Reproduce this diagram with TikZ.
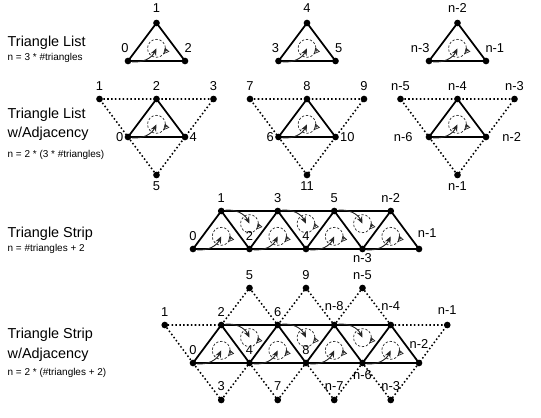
\documentclass[tikz,border=0pt]{standalone}
\usepackage{fontspec}
\setmainfont{Liberation Sans}
\setsansfont{Liberation Sans}
\usetikzlibrary{arrows.meta, calc}
\tikzset{
  every picture/.style={font=\sffamily, line width=1.2pt},
  vtx/.style={circle, fill=black, inner sep=0pt, minimum size=0.2cm},
  tri/.style={draw=black, line width=1.5pt, line join=round},
  adj/.style={draw=black, line width=1.3pt, dotted},
  ring/.style={draw=black!85, line width=0.6pt, dash pattern=on 2pt off 1.5pt},
  flow/.style={-{Stealth[length=6pt, width=5pt]}, draw=black!85, line width=0.8pt},
  wind/.style={-{Triangle[open, length=5pt, width=5pt]}, draw=black!85, line width=0.6pt},
  num/.style={font=\sffamily\fontsize{11}{13}\selectfont, inner sep=0pt},
  title/.style={font=\sffamily\fontsize{12.3}{14}\selectfont, anchor=base west, inner sep=0pt},
  note/.style={font=\sffamily\fontsize{8.5}{10}\selectfont, anchor=base west, inner sep=0pt},
  every label/.style={num},
  label distance=3.5pt,
  wmark/.pic={
    \draw[ring] (0,0) circle[radius=9];
    \draw[wind] (5:9) arc[start angle=5, end angle=40, radius=9];
  },
}

\begin{document}
\begin{tikzpicture}[x=0.03cm, y=-0.03cm]
  \useasboundingbox (0,0) rectangle (541,417);
  % ---------- triangle list ----------
  \node[title] (tl) at (7,46) {Triangle List};
  \node[note] (tln) at (7,60) {n = 3 * \#triangles};
  \foreach \c/\g/\la/\lb/\lc in {156.5/1/0/1/2, 307/2/3/4/5, 457.5/3/n-3/n-2/n-1} {
    \node[vtx, label={[anchor=south east, xshift=1pt, label distance=3pt]90:\la}] (lp\g) at (\c-28.5,61) {};
    \node[vtx, label={[label distance=5pt]above:\lb}] (lq\g) at (\c,23) {};
    \node[vtx, label={[anchor=south west, xshift=-1pt, label distance=3pt]90:\lc}] (lr\g) at (\c+28.5,61) {};
    \draw[tri] (lp\g.center) -- (lq\g.center) -- (lr\g.center) -- cycle;
    \coordinate (lc\g) at ($1/3*(lp\g)+1/3*(lq\g)+1/3*(lr\g)$);
    \pic at (lc\g) {wmark};
    \draw[flow] (lp\g) to[bend right=35] (lc\g);
  }
  % ---------- triangle list w/ adjacency ----------
  \node[title] (ja) at (7,118) {Triangle List};
  \node[title] (jb) at (7,137.5) {w/Adjacency};
  \node[note] (jn) at (7,157) {n = 2 * (3 * \#triangles)};
  \foreach \c/\g/\la/\lb/\lc/\ld/\le/\lf/\gap in {156.5/1/1/2/3/0/4/5/0pt, 307/2/7/8/9/6/10/11/0pt, 457.5/3/n-5/n-4/n-3/n-6/n-2/n-1/10pt} {
    \node[vtx, label={[label distance=3pt]above:\la}] (jo\g) at (\c-57,99) {};
    \node[vtx, label={[label distance=3pt]above:\lb}] (jq\g) at (\c,99) {};
    \node[vtx, label={[label distance=3pt]above:\lc}] (jr\g) at (\c+57,99) {};
    \node[vtx, label={[label distance=\gap]left:\ld}] (jp\g) at (\c-28.5,137) {};
    \node[vtx, label={[label distance=\gap]right:\le}] (js\g) at (\c+28.5,137) {};
    \node[vtx, label={[label distance=2pt]below:\lf}] (jb\g) at (\c,175) {};
    \draw[adj] (jo\g.center) -- (jr\g.center) -- (jb\g.center) -- cycle;
    \draw[tri] (jp\g.center) -- (jq\g.center) -- (js\g.center) -- cycle;
    \coordinate (jc\g) at ($1/3*(jp\g)+1/3*(jq\g)+1/3*(js\g)$);
    \pic at (jc\g) {wmark};
    \draw[flow] (jp\g) to[bend right=35] (jc\g);
  }
  % ---------- triangle strip ----------
  \node[title] (sa) at (7,237.5) {Triangle Strip};
  \node[note] (sn) at (7,251) {n = \#triangles + 2};
  \node[vtx, label=above:0] (sb0) at (193,249) {};
  \node[vtx, label=above:2] (sb1) at (249.5,249) {};
  \node[vtx, label=above:4] (sb2) at (306,249) {};
  \node[vtx, label={[label distance=0pt]below:n-3}] (sb3) at (362.5,249) {};
  \node[vtx, label={[anchor=south west, xshift=-1.5pt, label distance=5.5pt]90:n-1}] (sb4) at (419,249) {};
  \node[vtx, label=above:1] (st0) at (221.25,211) {};
  \node[vtx, label=above:3] (st1) at (277.75,211) {};
  \node[vtx, label=above:5] (st2) at (334.25,211) {};
  \node[vtx, label=above:n-2] (st3) at (390.75,211) {};
  \draw[tri] (sb0.center) -- (sb4.center);
  \draw[tri] (st0.center) -- (st3.center);
  \draw[tri] (sb0.center) \foreach \k [count=\n] in {0,...,3} { -- (st\k.center) -- (sb\n.center) };
  \foreach \k [count=\n] in {0,...,3} {
    \coordinate (su\k) at ($1/3*(sb\k)+1/3*(st\k)+1/3*(sb\n)$);
    \pic at (su\k) {wmark};
    \draw[flow] (sb\k) to[bend right=35] (su\k);
  }
  \foreach \k [count=\n] in {0,...,2} {
    \coordinate (sd\k) at ($1/3*(st\k)+1/3*(sb\n)+1/3*(st\n)$);
    \pic at (sd\k) {wmark};
    \draw[flow] (st\k) to[bend left=35] (sd\k);
  }
  % ---------- triangle strip w/ adjacency ----------
  \node[title] (aa) at (7,338) {Triangle Strip};
  \node[title] (ab) at (7,358) {w/Adjacency};
  \node[note] (an) at (7,375) {n = 2 * (\#triangles + 2)};
  \node[vtx, label=above:1] (at0) at (164.75,325) {};
  \node[vtx, label=above:2] (at1) at (221.25,325) {};
  \node[vtx, label=above:6] (at2) at (277.75,325) {};
  \node[vtx, label={[label distance=8pt]above:n-8}] (at3) at (334.25,325) {};
  \node[vtx, label={[label distance=8pt]above:n-4}] (at4) at (390.75,325) {};
  \node[vtx, label={[label distance=4.5pt]above:n-1}] (at5) at (447.25,325) {};
  \node[vtx, label=above:0] (ab0) at (193,363) {};
  \node[vtx, label=above:4] (ab1) at (249.5,363) {};
  \node[vtx, label=above:8] (ab2) at (306,363) {};
  \node[vtx, label={[label distance=2pt]below:n-6}] (ab3) at (362.5,363) {};
  \node[vtx, label={[label distance=8pt]above:n-2}] (ab4) at (419,363) {};
  \foreach \k/\l in {0/5, 1/9, 2/n-5}
    \node[vtx, label=above:\l] (au\k) at (249.5+56.5*\k,288) {};
  \foreach \k/\l in {0/3, 1/7, 2/n-7, 3/n-3}
    \node[vtx, label={[label distance=4pt]above:\l}] (ad\k) at (221.25+56.5*\k,400) {};
  \draw[adj] (ab0.center) -- (at0.center) -- (at1.center);
  \draw[adj] (at4.center) -- (at5.center) -- (ab4.center);
  \draw[adj] (at1.center) \foreach \k [count=\n from 2] in {0,...,2} { -- (au\k.center) -- (at\n.center) };
  \draw[adj] (ab0.center) \foreach \k [count=\n] in {0,...,3} { -- (ad\k.center) -- (ab\n.center) };
  \draw[tri] (ab0.center) -- (ab4.center);
  \draw[tri] (at1.center) -- (at4.center);
  \draw[tri] (ab0.center) \foreach \k [count=\n] in {0,...,3} { -- (at\n.center) -- (ab\n.center) };
  \foreach \k [count=\n] in {0,...,3} {
    \coordinate (aup\k) at ($1/3*(ab\k)+1/3*(at\n)+1/3*(ab\n)$);
    \pic at (aup\k) {wmark};
    \draw[flow] (ab\k) to[bend right=35] (aup\k);
  }
  \foreach \k [count=\n from 2] in {1,...,3} {
    \coordinate (adn\k) at ($1/3*(at\k)+1/3*(ab\k)+1/3*(at\n)$);
    \pic at (adn\k) {wmark};
    \draw[flow] (at\k) to[bend left=35] (adn\k);
  }
\end{tikzpicture}
\end{document}
